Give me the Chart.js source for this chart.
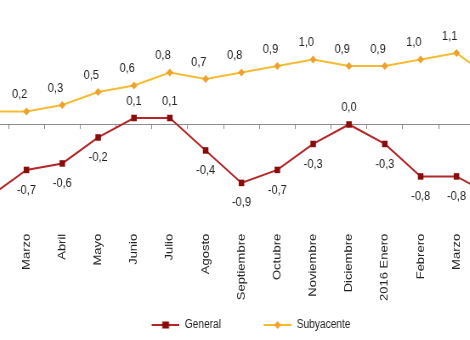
<!DOCTYPE html>
<html>
<head>
<meta charset="utf-8">
<script src="https://cdn.jsdelivr.net/npm/chart.js@4.4.1/dist/chart.umd.min.js"></script>
<style>
  html, body { margin: 0; padding: 0; background: #fff; overflow: hidden; }
  body { width: 470px; height: 340px; position: relative; }
  #wrap {
    position: absolute;
    left: -45.75px;
    top: -10px;
    width: 659px;
    height: 351px;
    transform: scaleX(0.85);
    transform-origin: 0 0;
  }
</style>
</head>
<body>
<div id="wrap"><canvas id="ipc"></canvas></div>
<script>
// months on the axis; the first and last ones are only context for the lines
const months = ['Febrero', 'Marzo', 'Abril', 'Mayo', 'Junio', 'Julio', 'Agosto', 'Septiembre',
    'Octubre', 'Noviembre', 'Diciembre', '2016 Enero', 'Febrero', 'Marzo', 'Abril'];

const general = [-1.1, -0.7, -0.6, -0.2, 0.1, 0.1, -0.4, -0.9, -0.7, -0.3, 0.0, -0.3, -0.8, -0.8, -1.1];
const subyacente = [0.2, 0.2, 0.3, 0.5, 0.6, 0.8, 0.7, 0.8, 0.9, 1.0, 0.9, 0.9, 1.0, 1.1, 0.7];

const seriesNames = ['General', 'Subyacente'];

const RED_LINE = '#b3262a';
const RED_MARK = '#8a0b0b';
const GOLD_LINE = '#f6bb30';
const GOLD_MARK = '#f0a02c';

const FONT = '"Liberation Sans", Arial, sans-serif';

// legend symbol: blank lead-in, then a short line with the marker on it
function legendSymbol(lineColor, markColor, style) {
    const c = document.createElement('canvas');
    c.width = 73;
    c.height = 12;
    const g = c.getContext('2d');
    const x0 = 40;
    g.strokeStyle = lineColor;
    g.lineWidth = 2;
    g.beginPath();
    g.moveTo(x0, 6);
    g.lineTo(x0 + 33, 6);
    g.stroke();
    g.fillStyle = markColor;
    if (style === 'rect') {
        g.fillRect(x0 + 12.5, 2.5, 8, 7);
    } else {
        g.beginPath();
        g.moveTo(x0 + 16.5, 2);
        g.lineTo(x0 + 20.5, 6);
        g.lineTo(x0 + 16.5, 10);
        g.lineTo(x0 + 12.5, 6);
        g.closePath();
        g.fill();
    }
    return c;
}

const fmt = (v) => v.toFixed(1).replace('.', ',');

// value labels: General below its point (above when >= 0), Subyacente above
const valueLabels = {
    id: 'valueLabels',
    afterDatasetsDraw(chart) {
        const ctx = chart.ctx;
        ctx.save();
        ctx.font = '13px ' + FONT;
        ctx.fillStyle = '#222';
        ctx.textAlign = 'center';
        ctx.textBaseline = 'middle';
        chart.data.datasets.forEach((ds, i) => {
            const meta = chart.getDatasetMeta(i);
            meta.data.forEach((pt, j) => {
                if (j === 0 || j === months.length - 1) return;
                const v = ds.data[j];
                let dx = 0, dy;
                if (i === 0) {
                    dy = v >= 0 ? -17 : 20;
                } else {
                    dx = -8;
                    dy = -17;
                }
                ctx.fillText(fmt(v), pt.x + dx, pt.y + dy);
            });
        });
        ctx.restore();
    }
};

const ctx = document.getElementById('ipc').getContext('2d');
const ipcChart = new Chart(ctx, {
    type: 'line',
    data: {
        labels: months,
        datasets: [{
            label: seriesNames[0],
            data: general,
            borderColor: RED_LINE,
            borderWidth: 2,
            pointStyle: 'rect',
            pointRadius: 4.6,
            pointBackgroundColor: RED_MARK,
            pointBorderWidth: 0,
            tension: 0,
            clip: false
        }, {
            label: seriesNames[1],
            data: subyacente,
            borderColor: GOLD_LINE,
            borderWidth: 2,
            pointStyle: 'rectRot',
            pointRadius: 4,
            pointBackgroundColor: GOLD_MARK,
            pointBorderWidth: 0,
            tension: 0,
            clip: false
        }]
    },
    options: {
        responsive: true,
        maintainAspectRatio: false,
        animation: false,
        layout: { padding: 0 },
        plugins: {
            tooltip: { enabled: false },
            legend: {
                position: 'bottom',
                labels: {
                    usePointStyle: true,
                    pointStyleWidth: 73,
                    padding: 10,
                    color: '#222',
                    font: { family: FONT, size: 12 },
                    generateLabels(chart) {
                        return chart.data.datasets.map((ds, i) => ({
                            text: ds.label,
                            datasetIndex: i,
                            pointStyle: i === 0
                                ? legendSymbol(RED_LINE, RED_MARK, 'rect')
                                : legendSymbol(GOLD_LINE, GOLD_MARK, 'rot'),
                            fillStyle: 'transparent',
                            strokeStyle: 'transparent',
                            lineWidth: 0,
                            fontColor: '#222'
                        }));
                    }
                }
            }
        },
        scales: {
            x: {
                offset: true,
                grid: { display: false, drawTicks: false },
                border: { display: false },
                ticks: {
                    autoSkip: false,
                    minRotation: 90,
                    maxRotation: 90,
                    padding: 8,
                    color: '#222',
                    font: { family: FONT, size: 13 }
                }
            },
            // zero line with its tick marks
            xZero: {
                type: 'category',
                position: { y: 0 },
                offset: true,
                grid: {
                    offset: true,
                    drawOnChartArea: false,
                    drawTicks: true,
                    tickLength: 4,
                    color: '#8c8c8c'
                },
                border: { display: true, color: '#8c8c8c', width: 1 },
                ticks: { display: false }
            },
            // value axis is not drawn, it only keeps a blank strip on the left
            y: {
                display: true,
                min: -1.56,
                max: 2.0,
                grid: { display: false, drawTicks: false },
                border: { display: false },
                ticks: { display: false },
                afterFit(scale) { scale.width = 22; }
            }
        }
    },
    plugins: [valueLabels]
});
</script>
</body>
</html>
